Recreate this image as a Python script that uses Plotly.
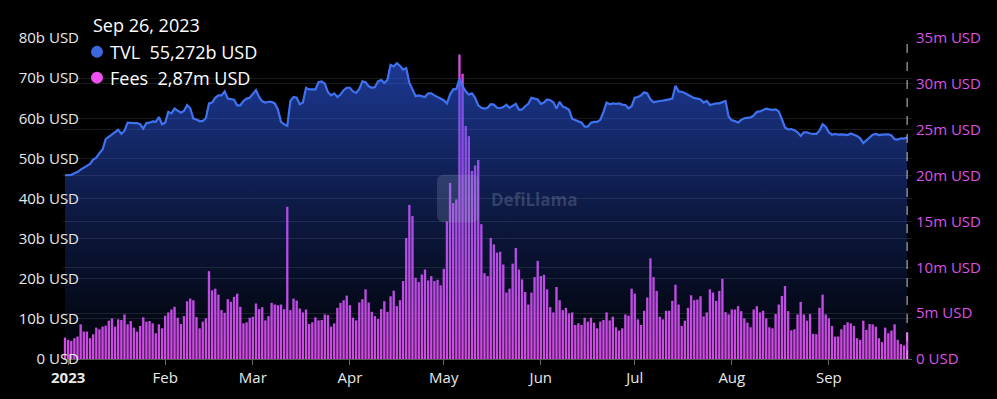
import plotly.graph_objects as go
import pandas as pd

# ---------------- data ----------------
dates = pd.date_range("2022-12-31", "2023-09-26", freq="D")

tvl_b = [
    45.8, 45.8, 45.9, 46.3, 46.6, 47.2, 47.6, 48.1, 48.6, 49.7, 50.2, 51.3, 52.2, 54.8, 55.4,
    56.1, 56.6, 57.1, 56.1, 56.9, 58.9, 58.8, 58.8, 58.8, 58.5, 57.4, 58.8, 58.9, 59.2, 59.1,
    60.3, 58.5, 58.9, 61.6, 61.2, 62.4, 62.0, 61.4, 61.8, 63.3, 62.5, 59.9, 59.7, 59.3, 59.3,
    60.0, 63.7, 63.9, 65.1, 65.7, 65.7, 66.7, 64.9, 64.7, 64.6, 63.2, 63.2, 64.3, 64.9, 65.1,
    66.0, 67.0, 65.3, 64.2, 63.9, 64.1, 64.1, 63.7, 62.2, 59.1, 58.5, 58.1, 64.3, 65.3, 65.1,
    63.5, 63.9, 67.6, 67.2, 67.2, 67.2, 69.0, 69.2, 68.6, 66.5, 65.7, 66.2, 65.3, 65.9, 67.0,
    67.6, 67.6, 66.7, 66.3, 67.3, 69.2, 69.0, 68.0, 67.6, 67.8, 69.2, 69.5, 68.8, 69.6, 73.3,
    72.9, 73.7, 73.1, 72.1, 72.5, 68.8, 67.2, 65.5, 65.7, 65.5, 65.3, 66.2, 66.2, 65.7, 65.3,
    64.9, 64.5, 63.7, 65.9, 67.2, 67.3, 69.8, 68.0, 66.7, 65.9, 66.2, 65.1, 63.2, 62.6, 62.4,
    62.6, 63.5, 63.4, 62.6, 62.5, 62.8, 63.4, 62.6, 63.2, 63.6, 62.1, 62.2, 63.0, 63.6, 65.1,
    64.9, 64.7, 63.6, 63.9, 64.7, 64.5, 64.0, 62.4, 64.1, 62.9, 62.6, 62.1, 59.9, 59.6, 59.3,
    58.9, 57.9, 57.9, 58.9, 59.1, 59.1, 59.6, 61.6, 63.9, 63.5, 63.7, 63.6, 63.7, 63.4, 63.3,
    62.5, 63.0, 65.1, 65.3, 65.7, 66.5, 66.2, 64.7, 64.0, 64.2, 64.3, 64.4, 64.5, 64.7, 64.9,
    68.1, 66.7, 66.6, 66.3, 65.9, 65.5, 65.0, 64.9, 64.7, 63.9, 64.3, 63.3, 63.5, 63.7, 63.7,
    64.0, 64.3, 60.4, 59.5, 59.3, 58.9, 59.6, 60.0, 60.1, 60.2, 60.7, 61.6, 61.7, 62.1, 62.4,
    62.2, 62.1, 62.2, 61.7, 59.8, 57.7, 57.2, 57.3, 57.0, 56.5, 55.6, 56.5, 56.5, 56.2, 56.1,
    56.1, 56.9, 58.5, 57.9, 56.5, 55.9, 56.1, 55.9, 56.0, 55.9, 55.8, 56.2, 55.9, 55.6, 55.0,
    53.8, 54.5, 55.2, 55.9, 56.1, 55.8, 55.9, 56.0, 56.0, 55.7, 54.8, 54.7, 55.0, 54.9, 55.272,
]

fees_m = [
    2.34, 2.09, 1.98, 2.27, 2.45, 3.78, 2.99, 2.99, 2.27, 2.70, 3.42, 3.24, 3.53, 3.64, 4.18,
    4.43, 3.53, 4.32, 4.25, 4.86, 3.78, 4.14, 3.42, 2.99, 3.60, 4.54, 4.07, 4.14, 3.89, 2.81,
    3.78, 3.35, 4.72, 5.08, 5.40, 5.69, 4.50, 3.82, 4.68, 6.30, 6.59, 6.41, 4.57, 3.35, 4.07,
    4.43, 9.58, 7.49, 7.67, 7.02, 5.33, 5.04, 6.52, 6.23, 6.77, 7.13, 5.69, 3.89, 4.00, 4.50,
    4.61, 6.05, 5.44, 5.65, 4.21, 4.68, 6.12, 5.94, 5.87, 5.94, 5.44, 16.6, 5.33, 6.59, 6.37,
    5.51, 5.08, 5.40, 3.82, 4.00, 4.54, 4.21, 4.25, 4.86, 4.79, 3.53, 3.89, 5.58, 6.12, 6.41,
    6.91, 5.87, 4.50, 4.21, 6.16, 6.52, 7.60, 6.16, 5.15, 4.68, 4.36, 5.44, 6.30, 5.15, 6.84,
    7.45, 5.76, 6.41, 8.50, 13.2, 16.8, 15.6, 8.86, 8.39, 9.22, 9.76, 8.57, 9.04, 8.50, 8.64,
    8.03, 9.83, 15.0, 19.2, 17.0, 17.4, 33.2, 31.1, 25.4, 24.3, 20.5, 21.1, 21.7, 14.7, 9.36,
    9.04, 13.2, 12.5, 11.6, 11.7, 10.3, 7.24, 7.67, 10.4, 12.1, 9.76, 8.68, 7.31, 5.94, 7.24,
    8.93, 10.7, 9.04, 9.18, 7.60, 5.65, 5.08, 7.85, 6.41, 5.33, 5.58, 4.97, 5.08, 3.71, 3.89,
    3.71, 4.50, 4.07, 4.50, 3.96, 3.35, 4.07, 4.25, 5.08, 4.21, 4.61, 3.46, 3.10, 3.35, 4.86,
    4.72, 7.67, 7.13, 4.32, 3.71, 5.26, 6.70, 10.98, 8.93, 7.42, 4.61, 4.32, 5.26, 5.26, 6.34,
    8.10, 5.94, 3.60, 4.18, 5.58, 6.95, 6.41, 6.48, 6.84, 4.64, 5.08, 7.60, 7.24, 6.34, 7.42,
    8.75, 5.11, 4.86, 5.40, 5.40, 5.76, 5.22, 4.43, 3.96, 3.46, 5.40, 5.76, 5.08, 5.26, 4.43,
    3.46, 3.35, 4.90, 5.94, 6.88, 7.96, 5.22, 3.13, 3.24, 4.86, 6.23, 4.86, 4.18, 4.90, 2.74,
    2.70, 5.58, 7.02, 4.86, 4.43, 3.60, 2.45, 2.45, 3.24, 3.71, 4.00, 3.89, 3.60, 2.27, 2.09,
    4.18, 3.17, 3.82, 3.78, 3.53, 2.27, 1.84, 3.42, 2.81, 3.10, 3.78, 2.09, 1.62, 1.48, 2.87,
]

tvl_tick_vals = [0, 10, 20, 30, 40, 50, 60, 70, 80]
tvl_tick_text = ["0 USD", "10b USD", "20b USD", "30b USD", "40b USD",
                 "50b USD", "60b USD", "70b USD", "80b USD"]
fee_tick_vals = [0, 5, 10, 15, 20, 25, 30, 35]
fee_tick_text = ["0 USD", "5m USD", "10m USD", "15m USD", "20m USD",
                 "25m USD", "30m USD", "35m USD"]
month_tick_vals = ["2023-01-01", "2023-02-01", "2023-03-01", "2023-04-01", "2023-05-01",
                   "2023-06-01", "2023-07-01", "2023-08-01", "2023-09-01"]
month_tick_text = ["<b>2023</b>", "Feb", "Mar", "Apr", "May", "Jun", "Jul", "Aug", "Sep"]

header_date = "Sep 26, 2023"
tvl_label = "TVL\u00a0\u00a055,272b USD"
fees_label = "Fees\u00a0\u00a02,87m USD"

# ---------------- style ----------------
FONT = "Open Sans"
TVL_LINE = "#3f72f0"
FEE_COLOR = "#d54ae3"
FEE_DOT = "#ef50f0"
FEE_AXIS = "#dc50e6"
W, H = 997, 399
ML, MR, MT, MB = 63, 85, 38, 37
PW, PH = W - ML - MR, H - MT - MB


def px(xp):
    return (xp - ML) / PW


def py(yp):
    return (H - MB - yp) / PH


fig = go.Figure()

fig.add_trace(go.Bar(
    x=dates, y=fees_m, yaxis="y", name="Fees",
    marker=dict(color=FEE_COLOR, line=dict(width=0)),
    hoverinfo="skip",
))

fig.add_trace(go.Scatter(
    x=dates, y=tvl_b, yaxis="y2", name="TVL", mode="lines",
    line=dict(color=TVL_LINE, width=2.2),
    fill="tozeroy",
    fillgradient=dict(
        type="vertical",
        colorscale=[[0, "rgba(45,90,235,0.02)"], [0.5, "rgba(45,90,235,0.28)"],
                    [1, "rgba(45,90,235,0.62)"]],
        start=0, stop=74,
    ),
    hoverinfo="skip",
))

fig.update_layout(
    width=W, height=H,
    margin=dict(l=ML, r=MR, t=MT, b=MB, pad=0),
    paper_bgcolor="#000000", plot_bgcolor="#000000",
    showlegend=False, bargap=0.25,
    font=dict(family=FONT, color="#e8e8e8", size=15),
    xaxis=dict(
        type="date",
        range=["2022-12-30 08:40", "2023-09-27 13:30"],
        tickvals=month_tick_vals, ticktext=month_tick_text,
        tickfont=dict(size=15, color="#e8e8e8"),
        showgrid=False, zeroline=False,
        showline=True, linecolor="#5a5a5a", linewidth=1,
        ticks="outside", ticklen=5, tickcolor="#6a6a6a",
    ),
    yaxis=dict(
        side="right", range=[0, 35],
        tickvals=fee_tick_vals, ticktext=fee_tick_text,
        tickfont=dict(size=15, color=FEE_AXIS),
        showgrid=True, gridcolor="#1b1b1b", gridwidth=1,
        zeroline=False, showline=False, ticks="",
        ticklabelstandoff=3,
    ),
    yaxis2=dict(
        overlaying="y", side="left", range=[0, 80],
        tickvals=tvl_tick_vals, ticktext=tvl_tick_text,
        tickfont=dict(size=15, color="#e8e8e8"),
        showgrid=True, gridcolor="#1b1b1b", gridwidth=1,
        zeroline=False, showline=False, ticks="",
        ticklabelstandoff=-17,
    ),
)

# crosshair at last date
fig.add_shape(type="line", xref="x", yref="paper",
              x0=dates[-1], x1=dates[-1], y0=0, y1=1.003,
              line=dict(color="#c8c8c8", width=1, dash="dash"))

# watermark
x0, x1 = px(437), px(479)
y0, y1 = py(224), py(176)
rx, ry = 7 / PW, 7 / PH
path = (f"M {x0+rx},{y1} L {x1-rx},{y1} Q {x1},{y1} {x1},{y1-ry} "
        f"L {x1},{y0+ry} Q {x1},{y0} {x1-rx},{y0} L {x0+rx},{y0} "
        f"Q {x0},{y0} {x0},{y0+ry} L {x0},{y1-ry} Q {x0},{y1} {x0+rx},{y1} Z")
fig.add_shape(type="path", xref="paper", yref="paper", path=path,
              fillcolor="rgba(150,165,200,0.22)", line=dict(width=0))
fig.add_annotation(xref="paper", yref="paper", x=px(489), y=py(201),
                   xanchor="left", yanchor="middle", showarrow=False,
                   text="<b>DefiLlama</b>",
                   font=dict(family=FONT, size=17, color="rgba(190,200,225,0.22)"))

# header / tooltip legend
fig.add_annotation(xref="paper", yref="paper", x=px(91), y=py(25),
                   xanchor="left", yanchor="middle", showarrow=False,
                   text=header_date, font=dict(family=FONT, size=18, color="#ffffff"))
for yy, col, label in [(52, "#3b68de", tvl_label), (78, FEE_DOT, fees_label)]:
    fig.add_shape(type="circle", xref="paper", yref="paper",
                  xsizemode="pixel", ysizemode="pixel",
                  xanchor=px(97), yanchor=py(yy),
                  x0=-6, x1=6, y0=-6, y1=6,
                  fillcolor=col, line=dict(width=0))
    fig.add_annotation(xref="paper", yref="paper", x=px(108), y=py(yy),
                       xanchor="left", yanchor="middle", showarrow=False,
                       text=label, font=dict(family=FONT, size=18, color="#ffffff"))

fig.write_html("out.html")
